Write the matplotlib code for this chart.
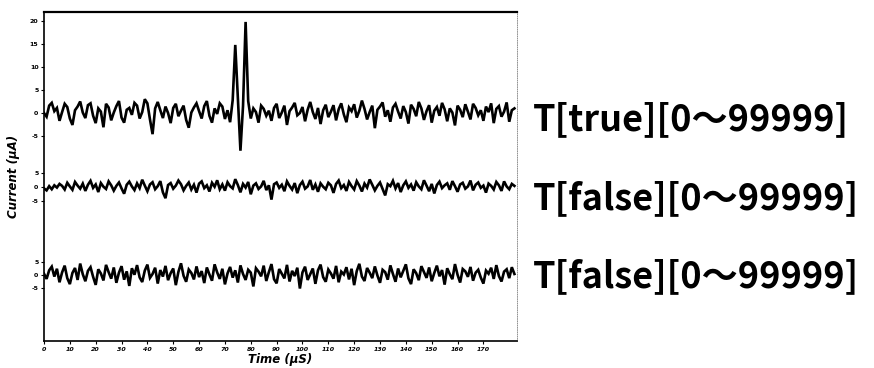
import matplotlib.pyplot as plt
import numpy as np

# current traces in uA, one sample per uS
trace_true = [
    0.0, -0.8, 1.6, 2.2, 0.4, 1.1, -1.7, 0.2, 2.0, 1.3,
    -1.2, -2.6, 0.6, 1.4, 2.5, 0.1, -1.1, 1.7, 2.1, -0.6,
    -2.2, 1.0, 0.3, -3.1, 2.0, 1.2, -1.6, 0.1, 1.5, 2.6,
    -1.0, -2.1, 0.7, 1.1, -0.4, 2.2, 1.6, -1.2, 0.2, 3.0,
    2.1, -1.4, -4.6, 1.0, 2.4, 0.6, -1.1, 1.4, 0.0, -2.2,
    1.1, 2.0, -0.7, 0.5, 1.6, -1.5, -3.2, 0.1, 1.2, 2.1,
    0.4, -1.2, 1.5, 2.6, -0.6, -2.1, 1.0, -0.2, 2.1, 1.4,
    -1.3, 0.6, -2.0, 2.8, 14.8, 3.2, -8.2, 1.5, 19.8, 2.6,
    -1.2, 1.0, 0.2, -2.1, 1.6, 0.9, -0.6, 0.5, -1.7, 1.1,
    2.0, -1.1, 0.1, 1.6, -2.6, 0.4, 1.2, 2.2, -0.5, 0.0,
    1.3, -1.8, 0.7, 2.4, 0.2, -1.3, 1.1, -2.4, 0.6, 1.8,
    -0.9, 0.3, 1.7, -1.6, 0.8, 2.1, -0.3, -2.0, 1.2, 0.4,
    1.9, -1.0, 0.5, 2.7, 0.9, -1.4, 0.2, 1.6, -3.3, 0.7,
    1.4, 2.3, -0.8, 0.6, -1.9, 1.2, 2.0, 0.3, -1.2, 1.5,
    0.2, -2.3, 1.8, 0.9, -0.7, 2.4, 1.0, -1.5, 0.4, 1.7,
    -2.1, 0.5, 1.3, -0.6, 2.2, 0.8, -1.8, 1.0, 0.1, -2.7,
    1.6, 0.7, -0.9, 1.9, 0.3, -1.4, 2.0, 1.1, -0.5, 0.6,
    -1.7, 1.4, 0.2, 2.1, -2.2, 0.9, 1.5, -0.8, 0.3, 2.3,
    -1.9, 0.6, 1.0,
]
trace_false_1 = [
    -0.5, -1.2, 0.3, -0.8, 0.6, -0.2, 1.1, 0.4, -0.9, 1.5,
    0.2, -1.0, 1.8, 0.5, -0.6, 1.2, -1.4, 0.8, 2.2, -0.3,
    0.9, -1.8, 1.4, 0.1, -0.7, 2.0, 0.6, -1.3, 0.4, 1.6,
    -0.5, -2.4, 0.8, 1.9, 0.2, -1.1, 1.3, -0.4, 2.6, 0.5,
    -1.5, 0.9, 1.7, -0.8, 0.3, 2.1, -1.9, -4.0, 0.7, 1.4,
    -0.6, 0.5, 2.3, 1.0, -1.2, 0.4, 1.6, -0.9, 0.8, -2.0,
    1.2, 2.0, -0.4, 0.6, -1.6, 1.5, 0.1, 2.4, -0.8, 0.9,
    -1.3, 1.7, 0.3, -0.5, 2.8, 0.7, -1.9, 1.1, -0.2, 1.8,
    -2.6, 0.5, 1.3, -0.7, 0.2, 2.2, -1.1, 0.6, -4.5, 1.0,
    1.6, -0.3, 0.8, -1.5, 2.0, 0.4, -0.9, 1.4, -2.2, 0.7,
    1.9, -0.6, 0.2, 2.5, -1.0, 0.9, -1.7, 1.3, 0.1, -0.8,
    1.5, 0.6, -2.1, 1.1, 2.3, -0.4, 0.7, -1.4, 1.8, 0.3,
    -0.9, 2.1, 0.5, -1.6, 1.2, -0.2, 2.7, 0.8, -1.2, 0.4,
    1.6, -0.7, -3.0, 1.0, 0.3, 2.2, -0.5, 1.4, -1.8, 0.6,
    2.0, -0.3, 0.9, -1.3, 1.7, 0.2, -0.8, 2.4, 0.5, -1.5,
    1.1, -2.3, 0.7, 1.9, -0.4, 0.6, 1.3, -1.0, 2.1, 0.3,
    -1.7, 0.9, 1.5, -0.6, 0.2, 2.3, -1.2, 0.8, 1.6, -0.3,
    0.5, -2.0, 1.2, 0.4, -0.9, 1.8, 0.6, -1.4, 2.0, 0.2,
    -0.8, 1.1, 0.4,
]
trace_false_2 = [
    0.5, -1.5, 1.8, 3.2, -0.6, 2.4, -2.8, 1.0, 3.6, -1.2,
    -3.5, 0.8, 2.7, -1.9, 4.4, 0.3, -2.4, 1.6, 3.0, -0.7,
    -3.8, 2.2, 0.6, -2.1, 3.9, 1.1, -1.4, 2.9, -3.0, 0.9,
    3.4, -1.8, 1.4, -4.2, 2.6, 0.1, 3.8, -0.9, -2.7, 1.7,
    4.0, -1.1, 0.4, 2.8, -3.3, 1.9, -0.6, 3.5, -2.0, 0.7,
    2.5, -3.9, 1.2, 4.5, -0.3, -2.6, 2.1, 0.8, -1.7, 3.3,
    -0.8, 1.5, -3.1, 2.9, 0.2, -2.2, 4.1, 1.0, -1.5, 2.4,
    -3.6, 0.6, 3.1, -1.0, 1.8, -2.9, 3.7, 0.4, -1.9, 2.0,
    0.9, -4.4, 2.6, 1.3, -0.5, 3.6, -2.3, 1.1, 4.2, -1.6,
    -3.2, 2.3, 0.5, -1.3, 3.9, -2.5, 1.6, -0.4, 2.8, -5.2,
    1.0, 3.2, -1.9, 0.3, 2.5, -3.4, 1.8, 4.0, -0.8, -2.6,
    2.1, 0.6, -1.4, 3.5, -2.8, 1.3, 0.2, 3.0, -1.7, 2.4,
    -3.9, 1.5, 4.3, -0.6, -2.3, 2.7, 0.9, -1.2, 3.3, -0.2,
    -3.0, 2.0, 1.1, -1.8, 3.7, 0.4, -2.6, 2.5, -0.9, 1.6,
    4.1, -1.3, -3.5, 2.2, 0.7, -2.0, 3.4, 1.2, -1.1, 2.9,
    -2.4, 0.8, 3.6, -0.5, 1.9, -3.7, 2.6, 0.3, -1.6, 4.2,
    0.1, -2.9, 2.3, 1.4, -0.7, 3.1, -2.2, 0.9, 2.0, -1.0,
    -3.3, 1.7, 0.5, 2.8, -1.5, 3.8, -0.4, -2.5, 1.3, 2.2,
    -1.2, 3.0, 0.4,
]
time_us = np.arange(len(trace_true))

trace_names = ["T[true][0～99999]", "T[false][0～99999]", "T[false][0～99999]"]
x_ticks = list(range(0, 180, 10))
y_ticks_top = [-5, 0, 5, 10, 15, 20]
y_ticks_lower = [-5, 0, 5]

# stacking: baseline (in panel units) and gain (panel units per uA)
baselines = [228, 154, 66]
gains = [4.6, 2.8, 2.6]

fig = plt.figure(figsize=(8.74, 3.68), dpi=100)
ax = fig.add_axes([44 / 874, 27 / 368, 473 / 874, 329 / 368])

traces = [trace_true, trace_false_1, trace_false_2]
tick_sets = [y_ticks_top, y_ticks_lower, y_ticks_lower]
ypos, ylab = [], []
for tr, base, g, ticks in zip(traces, baselines, gains, tick_sets):
    ax.plot(time_us, base + g * np.array(tr), color="black", lw=1.9,
            solid_joinstyle="miter")
    for tk in ticks:
        ypos.append(base + g * tk)
        ylab.append(str(tk))

ax.set_xlim(0, 183)
ax.set_ylim(0, 329)
ax.set_xticks(x_ticks)
ax.set_xticklabels([str(v) for v in x_ticks], fontsize=4.5,
                   fontweight="bold", fontstyle="italic")
ax.set_yticks(ypos)
ax.set_yticklabels(ylab, fontsize=4.5, fontweight="bold")
ax.tick_params(axis="both", length=2, width=0.8, pad=2)

ax.spines["top"].set_linewidth(1.6)
ax.spines["left"].set_linewidth(1.2)
ax.spines["bottom"].set_linewidth(1.2)
ax.spines["right"].set_linewidth(0.6)
ax.spines["right"].set_linestyle(":")
ax.spines["right"].set_color("gray")

ax.set_xlabel("Time (µS)", fontsize=8.5, fontweight="bold", fontstyle="italic",
              labelpad=1)
ax.set_ylabel("Current (µA)", fontsize=8.5, fontweight="bold",
              fontstyle="italic", labelpad=7)

for name, yc in zip(trace_names, [120, 199, 277]):
    fig.text(533 / 874, 1 - yc / 368, name, ha="left", va="center",
             fontsize=26, fontweight="bold",
             family=["Noto Sans CJK JP", "DejaVu Sans"])

fig.savefig("out.png", dpi=100)
